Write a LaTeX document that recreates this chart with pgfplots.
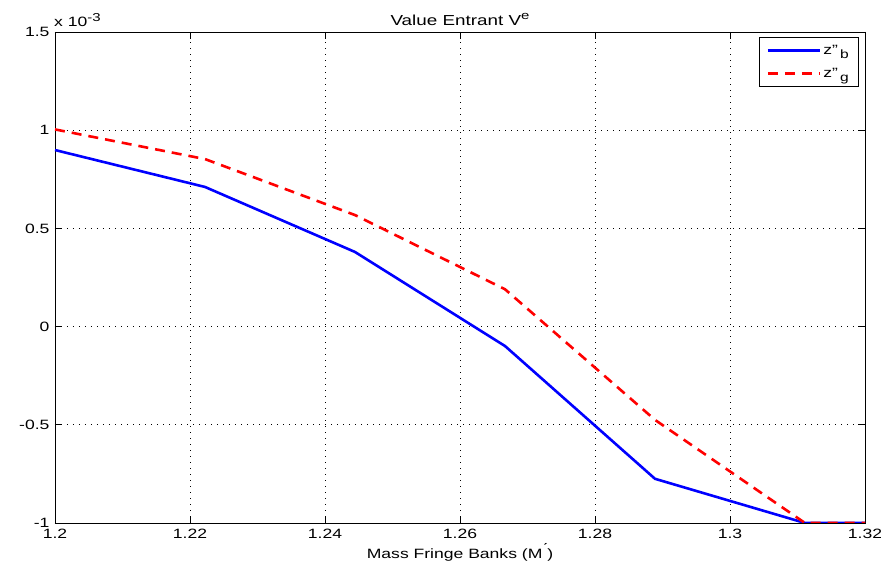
\documentclass[border=0pt]{standalone}
\usepackage{pgfplots}
\pgfplotsset{compat=1.18}
\usepackage{fontspec}
\setmainfont[FakeStretch=1.3]{Liberation Sans}
\newcommand{\f}{\fontsize{13.5}{16}\selectfont}
\newcommand{\sd}[1]{\raisebox{-0.6ex}{\fontsize{12}{13}\selectfont #1}}
\newcommand{\su}[1]{\raisebox{0.75ex}{\fontsize{11.5}{13}\selectfont #1}}
\begin{document}
\begin{tikzpicture}
\begin{axis}[
  scale only axis,
  width=810pt, height=491pt,
  xmin=1.2, xmax=1.32, ymin=-1, ymax=1.5,
  xtick={1.2,1.22,1.24,1.26,1.28,1.3,1.32},
  ytick={-1,-0.5,0,0.5,1,1.5},
  xticklabels={1.2,1.22,1.24,1.26,1.28,1.3,1.32},
  yticklabels={-1,-0.5,0,0.5,1,1.5},
  tick align=inside,
  major tick length=7pt,
  tick style={black, line width=0.6pt},
  axis line style={black, line width=0.8pt},
  grid=major,
  major grid style={black, line width=0.6pt, dash pattern=on 1pt off 5pt},
  font=\f,
  ticklabel style={font=\f},
  xticklabel style={yshift=-3pt},
  yticklabel style={xshift=-2pt},
  title={Value Entrant V\su{e}},
  title style={font=\fontsize{14.5}{17}\selectfont, yshift=-3pt},
  xlabel={Mass Fringe Banks (M\raisebox{0.4ex}{\'{}})},
  xlabel style={font=\f, yshift=2pt},
  legend style={at={(0.9915,0.99)}, anchor=north east, draw=black, line width=0.6pt,
    font=\f, inner xsep=7pt, inner ysep=6pt, row sep=8pt},
  legend cell align=left,
  legend image code/.code={\draw[#1] (0pt,0pt) -- (52pt,0pt);},
  clip=true,
]
\addplot[blue, line width=2.6pt] coordinates {
  (1.2,0.899) (1.22222,0.711) (1.24444,0.38) (1.26667,-0.099) (1.28889,-0.775) (1.31111,-1) (1.33333,-1)
};
\addlegendentry{z"\,\sd{b}}
\addplot[red, line width=2.6pt, dash pattern=on 10pt off 7pt] coordinates {
  (1.2,1.004) (1.22222,0.853) (1.24444,0.568) (1.26667,0.19) (1.28889,-0.475) (1.31111,-1) (1.33333,-1)
};
\addlegendentry{z"\,\sd{g}}
\end{axis}
\node[anchor=south west, font=\f, inner sep=0pt] at (-1pt,496pt) {x 10\su{-3}};
\pgfresetboundingbox
\path[use as bounding box] (-55pt,-44pt) rectangle (826pt,523pt);
\end{tikzpicture}
\end{document}
